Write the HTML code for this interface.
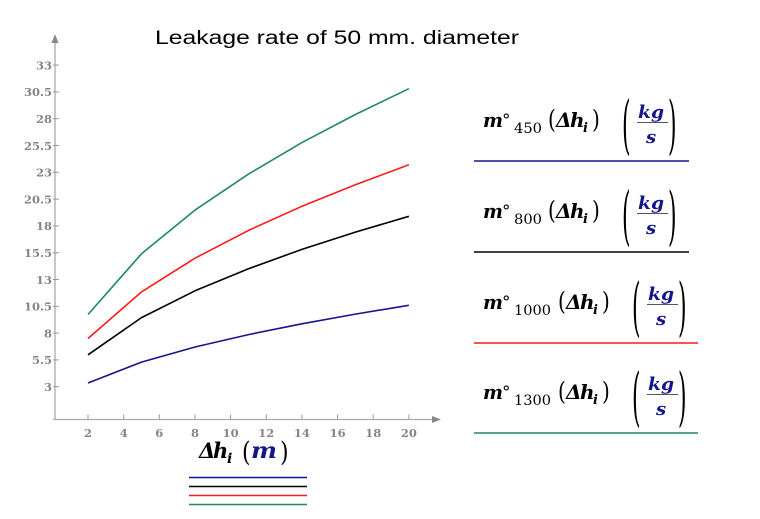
<!DOCTYPE html>
<html>
<head>
<meta charset="utf-8">
<style>
html,body{margin:0;padding:0;background:#fff;}
svg{display:block;}
.tk{font-family:"DejaVu Serif","Liberation Serif",serif;font-size:11.5px;font-weight:bold;fill:#858585;}
.mi{font-family:"DejaVu Serif","Liberation Serif",serif;font-style:italic;font-weight:bold;}
.rm{font-family:"DejaVu Serif","Liberation Serif",serif;}
</style>
</head>
<body>
<svg width="760" height="519" viewBox="0 0 760 519" xmlns="http://www.w3.org/2000/svg">
<rect width="760" height="519" fill="#fff"/>
<!-- title -->
<text x="155" y="44" font-family="Liberation Sans, sans-serif" font-size="19" fill="#000" textLength="364" lengthAdjust="spacingAndGlyphs">Leakage rate of 50 mm. diameter</text>

<!-- axes -->
<g stroke="#aaaaaa" stroke-width="1.3" fill="none">
<line x1="55" y1="40" x2="55" y2="420"/>
<line x1="53" y1="419.5" x2="434" y2="419.5"/>
</g>
<polygon points="55,34 51.5,43 58.5,43" fill="#888"/>
<polygon points="441,419.5 432,416 432,423" fill="#888"/>

<!-- y ticks -->
<g stroke="#999" stroke-width="1">
<line x1="53" y1="386.7" x2="59" y2="386.7"/>
<line x1="53" y1="359.9" x2="59" y2="359.9"/>
<line x1="53" y1="333.1" x2="59" y2="333.1"/>
<line x1="53" y1="306.3" x2="59" y2="306.3"/>
<line x1="53" y1="279.5" x2="59" y2="279.5"/>
<line x1="53" y1="252.7" x2="59" y2="252.7"/>
<line x1="53" y1="225.9" x2="59" y2="225.9"/>
<line x1="53" y1="199.1" x2="59" y2="199.1"/>
<line x1="53" y1="172.3" x2="59" y2="172.3"/>
<line x1="53" y1="145.5" x2="59" y2="145.5"/>
<line x1="53" y1="118.7" x2="59" y2="118.7"/>
<line x1="53" y1="91.9" x2="59" y2="91.9"/>
<line x1="53" y1="65.1" x2="59" y2="65.1"/>
</g>
<g class="tk" text-anchor="end">
<text x="52" y="391">3</text>
<text x="52" y="364">5.5</text>
<text x="52" y="337.5">8</text>
<text x="52" y="310.5">10.5</text>
<text x="52" y="284">13</text>
<text x="52" y="257">15.5</text>
<text x="52" y="230">18</text>
<text x="52" y="203.5">20.5</text>
<text x="52" y="176.5">23</text>
<text x="52" y="150">25.5</text>
<text x="52" y="123">28</text>
<text x="52" y="96">30.5</text>
<text x="52" y="69.5">33</text>
</g>

<!-- x ticks -->
<g stroke="#999" stroke-width="1">
<line x1="88" y1="414.5" x2="88" y2="419.5"/>
<line x1="123.7" y1="414.5" x2="123.7" y2="419.5"/>
<line x1="159.3" y1="414.5" x2="159.3" y2="419.5"/>
<line x1="195" y1="414.5" x2="195" y2="419.5"/>
<line x1="230.6" y1="414.5" x2="230.6" y2="419.5"/>
<line x1="266.3" y1="414.5" x2="266.3" y2="419.5"/>
<line x1="301.9" y1="414.5" x2="301.9" y2="419.5"/>
<line x1="337.6" y1="414.5" x2="337.6" y2="419.5"/>
<line x1="373.2" y1="414.5" x2="373.2" y2="419.5"/>
<line x1="408.9" y1="414.5" x2="408.9" y2="419.5"/>
</g>
<g class="tk" text-anchor="middle">
<text x="88" y="437">2</text>
<text x="123.7" y="437">4</text>
<text x="159.3" y="437">6</text>
<text x="195" y="437">8</text>
<text x="230.6" y="437">10</text>
<text x="266.3" y="437">12</text>
<text x="301.9" y="437">14</text>
<text x="337.6" y="437">16</text>
<text x="373.2" y="437">18</text>
<text x="408.9" y="437">20</text>
</g>

<!-- series -->
<g fill="none" stroke-width="1.6" stroke-linejoin="round">
<polyline stroke="#1f8a5e" points="88,314.5 141.5,253.8 195,210.1 248.5,174.1 301.9,142.6 355.4,114.5 408.9,88.7"/>
<polyline stroke="#ff1a1a" points="88,338.5 141.5,291.9 195,258.2 248.5,230.4 301.9,206.3 355.4,184.7 408.9,164.8"/>
<polyline stroke="#000000" points="88,354.8 141.5,317.6 195,290.8 248.5,268.7 301.9,249.4 355.4,232.1 408.9,216.3"/>
<polyline stroke="#16168c" points="88,383.0 141.5,362.1 195,347.0 248.5,334.6 301.9,323.8 355.4,314.1 408.9,305.3"/>
</g>

<!-- x axis label -->
<text class="mi" x="199" y="458" font-size="21" fill="#000">Δ</text>
<text class="mi" x="213" y="458" font-size="21" fill="#000">h</text>
<text class="mi" x="227" y="463" font-size="14" fill="#000">i</text>
<text class="rm" x="242" y="461" font-size="22" fill="#000" transform="translate(242,461) scale(1,1.25) translate(-242,-461)">(</text>
<text class="mi" x="251" y="458" font-size="22" fill="#16168c" textLength="26" lengthAdjust="spacingAndGlyphs">m</text>
<text class="rm" x="280" y="461" font-size="22" fill="#000" transform="translate(280,461) scale(1,1.25) translate(-280,-461)">)</text>

<!-- bottom legend lines -->
<g stroke-width="1.6">
<line x1="189" y1="477.5" x2="307" y2="477.5" stroke="#16168c"/>
<line x1="189" y1="486.5" x2="307" y2="486.5" stroke="#000"/>
<line x1="189" y1="495.5" x2="307" y2="495.5" stroke="#ff1a1a"/>
<line x1="189" y1="504.5" x2="307" y2="504.5" stroke="#1f8a5e"/>
</g>

<!-- right legend item 1 -->
<g>
<text class="mi" x="483" y="127" font-size="20" textLength="20" lengthAdjust="spacingAndGlyphs">m</text>
<text class="rm" x="502" y="126" font-size="17">°</text>
<text class="rm" x="514" y="133" font-size="14" textLength="28" lengthAdjust="spacingAndGlyphs">450</text>
<text class="rm" x="548" y="128" font-size="20" transform="translate(548,128) scale(1,1.25) translate(-548,-128)">(</text>
<text class="mi" x="556" y="127" font-size="20">Δ</text>
<text class="mi" x="570" y="127" font-size="20">h</text>
<text class="mi" x="583" y="132" font-size="13">i</text>
<text class="rm" x="592" y="128" font-size="20" transform="translate(592,128) scale(1,1.25) translate(-592,-128)">)</text>
<text class="rm" x="622" y="146.5" font-size="20" transform="translate(622,146.5) scale(1.1,3.2) translate(-622,-146.5)">(</text>
<text class="mi" x="638" y="118" font-size="18" fill="#16168c" textLength="26" lengthAdjust="spacingAndGlyphs">kg</text>
<line x1="637" y1="122.5" x2="668" y2="122.5" stroke="#555" stroke-width="1"/>
<text class="mi" x="646" y="143" font-size="18" fill="#16168c">s</text>
<text class="rm" x="668" y="146.5" font-size="20" transform="translate(668,146.5) scale(1.1,3.2) translate(-668,-146.5)">)</text>
<line x1="474" y1="161" x2="689" y2="161" stroke="#16168c" stroke-width="1.6"/>
</g>

<!-- right legend item 2 -->
<g transform="translate(0,91)">
<text class="mi" x="483" y="127" font-size="20" textLength="20" lengthAdjust="spacingAndGlyphs">m</text>
<text class="rm" x="502" y="126" font-size="17">°</text>
<text class="rm" x="514" y="133" font-size="14" textLength="28" lengthAdjust="spacingAndGlyphs">800</text>
<text class="rm" x="548" y="128" font-size="20" transform="translate(548,128) scale(1,1.25) translate(-548,-128)">(</text>
<text class="mi" x="556" y="127" font-size="20">Δ</text>
<text class="mi" x="570" y="127" font-size="20">h</text>
<text class="mi" x="583" y="132" font-size="13">i</text>
<text class="rm" x="592" y="128" font-size="20" transform="translate(592,128) scale(1,1.25) translate(-592,-128)">)</text>
<text class="rm" x="622" y="146.5" font-size="20" transform="translate(622,146.5) scale(1.1,3.2) translate(-622,-146.5)">(</text>
<text class="mi" x="638" y="118" font-size="18" fill="#16168c" textLength="26" lengthAdjust="spacingAndGlyphs">kg</text>
<line x1="637" y1="122.5" x2="668" y2="122.5" stroke="#555" stroke-width="1"/>
<text class="mi" x="646" y="143" font-size="18" fill="#16168c">s</text>
<text class="rm" x="668" y="146.5" font-size="20" transform="translate(668,146.5) scale(1.1,3.2) translate(-668,-146.5)">)</text>
<line x1="474" y1="161" x2="689" y2="161" stroke="#000" stroke-width="1.6"/>
</g>

<!-- right legend item 3 -->
<g transform="translate(0,182)">
<text class="mi" x="483" y="127" font-size="20" textLength="20" lengthAdjust="spacingAndGlyphs">m</text>
<text class="rm" x="502" y="126" font-size="17">°</text>
<text class="rm" x="514" y="133" font-size="14" textLength="37" lengthAdjust="spacingAndGlyphs">1000</text>
<text class="rm" x="558" y="128" font-size="20" transform="translate(558,128) scale(1,1.25) translate(-558,-128)">(</text>
<text class="mi" x="566" y="127" font-size="20">Δ</text>
<text class="mi" x="580" y="127" font-size="20">h</text>
<text class="mi" x="593" y="132" font-size="13">i</text>
<text class="rm" x="602" y="128" font-size="20" transform="translate(602,128) scale(1,1.25) translate(-602,-128)">)</text>
<text class="rm" x="632" y="146.5" font-size="20" transform="translate(632,146.5) scale(1.1,3.2) translate(-632,-146.5)">(</text>
<text class="mi" x="648" y="118" font-size="18" fill="#16168c" textLength="26" lengthAdjust="spacingAndGlyphs">kg</text>
<line x1="647" y1="122.5" x2="678" y2="122.5" stroke="#555" stroke-width="1"/>
<text class="mi" x="656" y="143" font-size="18" fill="#16168c">s</text>
<text class="rm" x="678" y="146.5" font-size="20" transform="translate(678,146.5) scale(1.1,3.2) translate(-678,-146.5)">)</text>
<line x1="474" y1="161" x2="698" y2="161" stroke="#ff1a1a" stroke-width="1.6"/>
</g>

<!-- right legend item 4 -->
<g transform="translate(0,272)">
<text class="mi" x="483" y="127" font-size="20" textLength="20" lengthAdjust="spacingAndGlyphs">m</text>
<text class="rm" x="502" y="126" font-size="17">°</text>
<text class="rm" x="514" y="133" font-size="14" textLength="37" lengthAdjust="spacingAndGlyphs">1300</text>
<text class="rm" x="558" y="128" font-size="20" transform="translate(558,128) scale(1,1.25) translate(-558,-128)">(</text>
<text class="mi" x="566" y="127" font-size="20">Δ</text>
<text class="mi" x="580" y="127" font-size="20">h</text>
<text class="mi" x="593" y="132" font-size="13">i</text>
<text class="rm" x="602" y="128" font-size="20" transform="translate(602,128) scale(1,1.25) translate(-602,-128)">)</text>
<text class="rm" x="632" y="146.5" font-size="20" transform="translate(632,146.5) scale(1.1,3.2) translate(-632,-146.5)">(</text>
<text class="mi" x="648" y="118" font-size="18" fill="#16168c" textLength="26" lengthAdjust="spacingAndGlyphs">kg</text>
<line x1="647" y1="122.5" x2="678" y2="122.5" stroke="#555" stroke-width="1"/>
<text class="mi" x="656" y="143" font-size="18" fill="#16168c">s</text>
<text class="rm" x="678" y="146.5" font-size="20" transform="translate(678,146.5) scale(1.1,3.2) translate(-678,-146.5)">)</text>
<line x1="474" y1="161" x2="698" y2="161" stroke="#1f8a5e" stroke-width="1.6"/>
</g>
</svg>
</body>
</html>
